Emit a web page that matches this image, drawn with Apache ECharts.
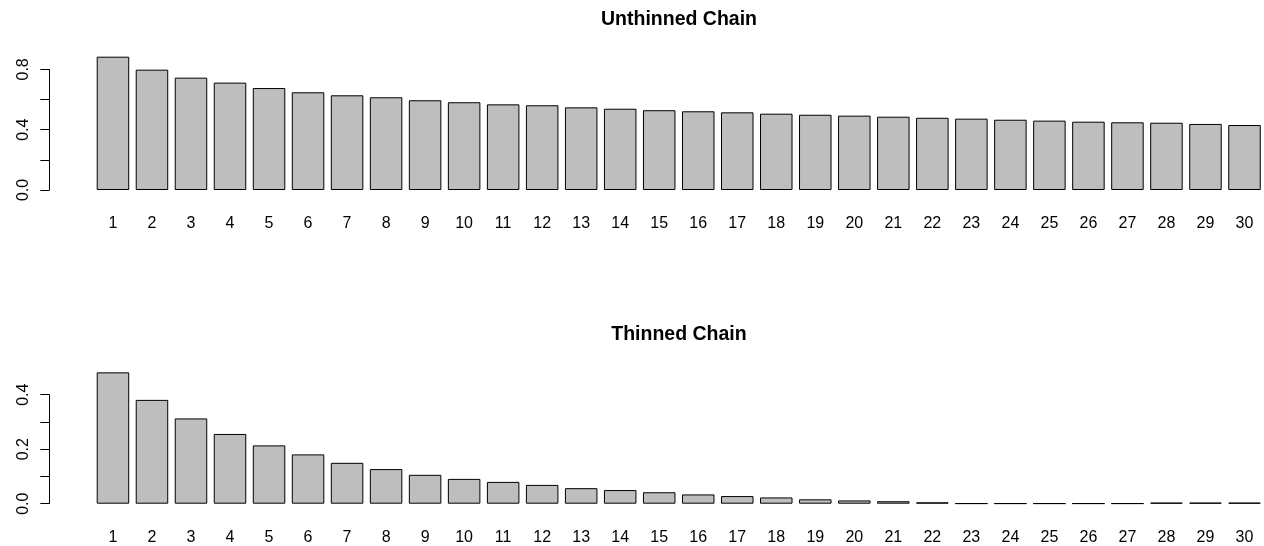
<!DOCTYPE html>
<html>
<head>
<meta charset="utf-8">
<script src="https://cdn.jsdelivr.net/npm/echarts@6/dist/echarts.min.js"></script>
<style>
html,body{margin:0;padding:0;background:#fff;}
#c{width:1264px;height:546px;}
</style>
</head>
<body>
<div id="c"></div>
<script>
var categories = ['1','2','3','4','5','6','7','8','9','10','11','12','13','14','15','16','17','18','19','20','21','22','23','24','25','26','27','28','29','30'];
var unthinned = [0.884,0.798,0.745,0.712,0.676,0.648,0.628,0.615,0.595,0.582,0.568,0.562,0.548,0.539,0.529,0.522,0.515,0.506,0.499,0.493,0.486,0.479,0.473,0.466,0.460,0.453,0.449,0.446,0.438,0.431];
var thinned = [0.482,0.381,0.313,0.256,0.214,0.181,0.150,0.127,0.106,0.091,0.080,0.069,0.057,0.050,0.042,0.034,0.028,0.023,0.016,0.012,0.009,0.005,0.001,0.001,0.001,0.001,0.001,0.004,0.004,0.004];
var topTickLabels = ['0.0','0.4','0.8'];
var bottomTickLabels = ['0.0','0.2','0.4'];
var titles = ['Unthinned Chain','Thinned Chain'];

var FONT = '"Liberation Sans", Arial, sans-serif';
var chart = echarts.init(document.getElementById('c'), null, {renderer:'canvas'});

var GL = 93.45, GW = 1173;

function catAxis(gi, margin){
  return {
    type:'category', gridIndex:gi, data:categories,
    axisLine:{show:false}, axisTick:{show:false},
    axisLabel:{interval:0, fontSize:16, color:'#000', fontFamily:FONT, margin:margin}
  };
}
function hiddenX(gi){
  return {type:'value', gridIndex:gi, show:false, min:0, max:1};
}
function visY(gi, max, interval, labels){
  return {
    type:'value', gridIndex:gi, min:0, max:max, interval:interval, offset:GL-49.3,
    axisLine:{show:true, onZero:false, lineStyle:{color:'#000', width:1}},
    axisTick:{show:true, length:9, lineStyle:{color:'#000', width:1}},
    splitLine:{show:false},
    axisLabel:{rotate:90, fontSize:16, color:'#000', fontFamily:FONT, margin:18,
      formatter:function(v){ var s=v.toFixed(1); return labels.indexOf(s)>=0 ? s : ''; }}
  };
}
function dataY(gi, max){
  return {type:'value', gridIndex:gi, min:0, max:max, show:false, splitLine:{show:false}};
}

var barStyle = {color:'#bebebe', borderColor:'#000', borderWidth:1};

chart.setOption({
  animation:false,
  backgroundColor:'#fff',
  title:[
    {text:titles[0], left:674, top:5, textAlign:'center',
     textStyle:{fontSize:19.5, fontWeight:'bold', color:'#000', fontFamily:FONT}},
    {text:titles[1], left:674, top:320, textAlign:'center',
     textStyle:{fontSize:19.5, fontWeight:'bold', color:'#000', fontFamily:FONT}}
  ],
  grid:[
    {left:GL, width:GW, top:190-0.92*150.8, height:0.92*150.8},
    {left:GL, width:10, top:190-0.8*150.8, height:0.8*150.8},
    {left:GL, width:GW, top:503.7-0.5*272.5, height:0.5*272.5},
    {left:GL, width:10, top:503.7-0.4*272.5, height:0.4*272.5}
  ],
  xAxis:[catAxis(0,26), hiddenX(1), catAxis(2,26), hiddenX(3)],
  yAxis:[dataY(0,0.92), visY(1,0.8,0.2,topTickLabels), dataY(2,0.5), visY(3,0.4,0.1,bottomTickLabels)],
  series:[
    {type:'bar', xAxisIndex:0, yAxisIndex:0, data:unthinned, barCategoryGap:'16.7%', itemStyle:barStyle},
    {type:'bar', xAxisIndex:2, yAxisIndex:2, data:thinned, barCategoryGap:'16.7%', itemStyle:barStyle}
  ]
});
</script>
</body>
</html>
